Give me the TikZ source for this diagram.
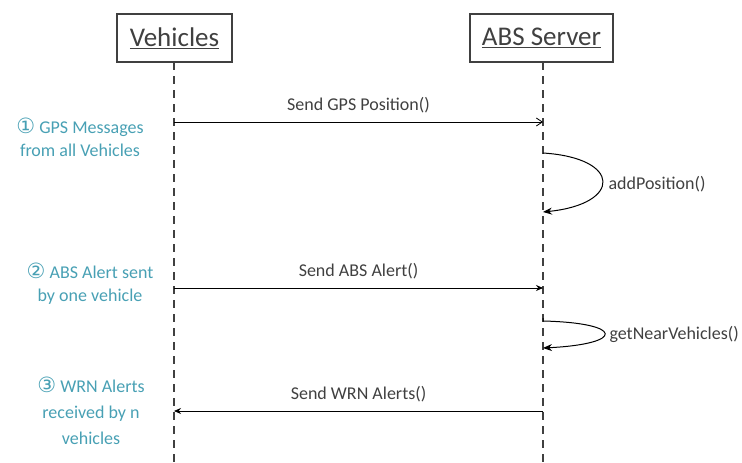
\documentclass[tikz,border=0pt]{standalone}
\usepackage{fontspec}
\setmainfont{Carlito}
\newfontfamily\symfont{DejaVu Sans}
\usetikzlibrary{arrows.meta}

\definecolor{notecol}{RGB}{72,160,180}
\definecolor{inkcol}{RGB}{64,64,64}

\newcommand{\stepnum}[1]{{\symfont\fontsize{21}{20}\selectfont #1}}

\begin{document}
\begin{tikzpicture}[x=1pt,y=-1pt,
  actor/.style={draw=inkcol,line width=1.6pt,minimum height=48pt,inner sep=0pt,
    font=\fontsize{27}{32}\selectfont,text=inkcol},
  life/.style={inkcol,line width=1.2pt,dash pattern=on 8pt off 6pt},
  msg/.style={line width=0.8pt,-{Stealth[length=7pt,width=6pt]}},
  asyncmsg/.style={line width=0.8pt,-{Straight Barb[length=6pt,width=8pt]}},
  selfmsg/.style={line width=1pt,-{Stealth[length=9pt,width=7pt]}},
  lbl/.style={font=\fontsize{18}{22}\selectfont,text=inkcol},
  note/.style={font=\fontsize{18}{23}\selectfont,text=notecol,align=center}]
  \useasboundingbox (0,0) rectangle (742,463);

  % the two actors
  \node[actor,minimum width=115pt] (veh) at (174.5,38) {\underline{Vehicles}};
  \node[actor,minimum width=143pt] (srv) at (541.5,38) {\underline{ABS Server}};

  % life lines
  \coordinate (vehend) at (174,463);
  \coordinate (srvend) at (543,463);
  \draw[life] (174,62) -- (vehend);
  \draw[life] (543,62) -- (srvend);

  % points on the life lines
  \foreach \n/\y in {1/122,2/288,3/411}{
    \coordinate (v\n) at (174,\y);
    \coordinate (s\n) at (543,\y);
  }
  \coordinate (p1) at (543,153);
  \coordinate (p2) at (543,212);
  \coordinate (q1) at (543,318);
  \coordinate (q2) at (543,348);

  % messages
  \draw[asyncmsg] (v1) to node[lbl,above=5pt] (m1) {Send GPS Position()} (s1);
  \draw[msg] (v2) to node[lbl,above=5pt] (m2) {Send ABS Alert()} (s2);
  \draw[msg] (s3) to node[lbl,above=5pt] (m3) {Send WRN Alerts()} (v3);

  % calls on the server itself
  \draw[selfmsg] (p1) .. controls (622,158) and (622,204) .. (p2);
  \node[lbl,anchor=west] (c1) at (605,184) {addPosition()};
  \draw[selfmsg] (q1) -- (543,321) .. controls (625,323) and (625,344) .. (q2);
  \node[lbl,anchor=west] (c2) at (606,334) {getNearVehicles()};

  % the steps
  \node[note] (n1) at (80,137) {\stepnum{①} GPS Messages\\from all Vehicles};
  \node[note] (n2) at (90,284) {\stepnum{②} ABS Alert sent\\by one vehicle};
  \node[note,font=\fontsize{18}{26}\selectfont] (n3) at (91,411) {\stepnum{③} WRN Alerts\\received by n\\vehicles};
\end{tikzpicture}
\end{document}
